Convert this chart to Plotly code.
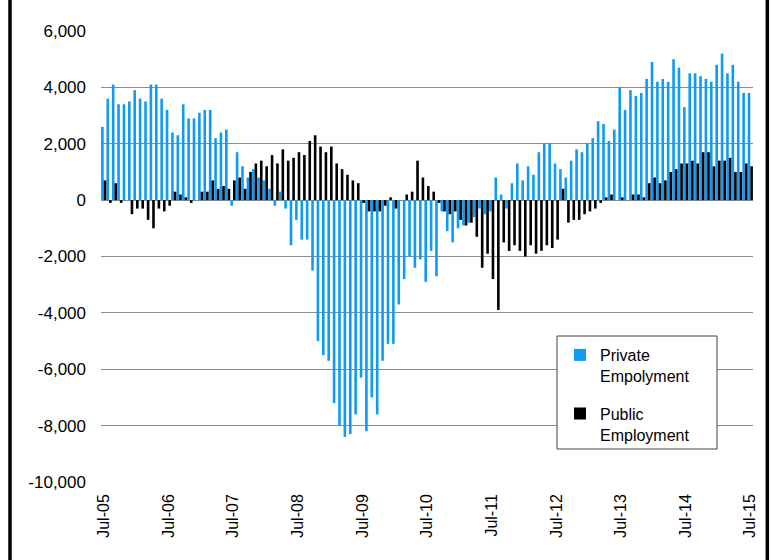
import plotly.graph_objects as go

# ---- data -------------------------------------------------------------
months = []
_mn = ["Jan", "Feb", "Mar", "Apr", "May", "Jun", "Jul", "Aug", "Sep", "Oct", "Nov", "Dec"]
for _y in range(2005, 2016):
    for _m in range(12):
        if (_y == 2005 and _m < 6) or (_y == 2015 and _m > 6):
            continue
        months.append(f"{_mn[_m]}-{str(_y)[2:]}")

private_employment = [
    2600, 3600, 4100, 3400, 3400, 3500, 3900, 3600, 3500, 4100, 4100, 3600,
    3200, 2400, 2300, 3400, 2900, 2900, 3100, 3200, 3200, 2200, 2400, 2500,
    -200, 1700, 1200, 800, 1100, 800, 700, 400, -200, 300, -300, -1600,
    -700, -1400, -1400, -2500, -5000, -5500, -5700, -7200, -8000, -8400, -8300, -7600,
    -6300, -8200, -7000, -7600, -5700, -5100, -5100, -3700, -2800, -2000, -2400, -2100,
    -2900, -1800, -2700, -400, -1100, -1500, -1000, -900, -800, -600, -300, -500,
    -400, 800, 200, -300, 600, 1300, 700, 1200, 900, 1700, 2000, 2000,
    1300, 1100, 800, 1400, 1800, 1700, 2000, 2200, 2800, 2700, 2100, 2500,
    4000, 3200, 3900, 3700, 3800, 4300, 4900, 4200, 4300, 4200, 5000, 4700,
    3300, 4500, 4500, 4400, 4300, 4200, 4800, 5200, 4500, 4800, 4200, 3800,
    3800,
]

public_employment = [
    700, -100, 600, -100, 0, -500, -300, -300, -700, -1000, -300, -400,
    -200, 300, 200, 100, -100, 0, 300, 300, 700, 400, 500, 400,
    700, 800, 400, 1000, 1300, 1400, 1200, 1600, 1300, 1800, 1400, 1500,
    1700, 1600, 2100, 2300, 1900, 1700, 1900, 1300, 1100, 900, 700, 600,
    -100, -400, -400, -400, -200, 100, -300, 0, 200, 300, 1400, 800,
    500, 300, -100, -400, -500, -400, -700, -900, -800, -1300, -2400, -1900,
    -2800, -3900, -1500, -1800, -1600, -1800, -2000, -1600, -1900, -1800, -1600, -1700,
    -1400, 400, -800, -700, -700, -500, -400, -300, -100, 100, 200, 0,
    100, 0, 200, 200, 100, 600, 800, 600, 700, 1000, 1100, 1300,
    1300, 1400, 1300, 1700, 1700, 1200, 1400, 1400, 1500, 1000, 1000, 1300,
    1200,
]

x_tick_labels = months[::12]
y_tick_vals = [6000, 4000, 2000, 0, -2000, -4000, -6000, -8000, -10000]
y_tick_labels = ["6,000", "4,000", "2,000", "0", "-2,000", "-4,000", "-6,000", "-8,000", "-10,000"]
year_tick_positions = [12 * k - 0.5 for k in range(0, 11)]

# ---- figure -----------------------------------------------------------
FONT = "Arial, 'Liberation Sans', sans-serif"
fig = go.Figure()
fig.add_trace(go.Bar(x=months, y=private_employment, name="Private<br>Empolyment",
                     marker=dict(color="#0f9bf5", line=dict(width=0)), legendgroup="a"))
fig.add_trace(go.Bar(x=months, y=public_employment, name="Public<br>Employment",
                     marker=dict(color="#000000", line=dict(width=0)), legendgroup="b"))

PL, PR, PT, PB = 101, 753, 31, 482
W, H = 772, 560
pw, ph = PR - PL, PB - PT


def px(x):
    return (x - PL) / pw


def py(y):
    return (PB - y) / ph


fig.update_layout(
    width=W, height=H,
    margin=dict(l=PL, r=W - PR, t=PT, b=H - PB, pad=0),
    paper_bgcolor="white", plot_bgcolor="white",
    font=dict(family=FONT, size=16, color="#000000"),
    barmode="group", bargap=0.03, bargroupgap=0,
    showlegend=True,
    legend=dict(x=px(560), y=py(338), xanchor="left", yanchor="top",
                bgcolor="rgba(0,0,0,0)", borderwidth=0,
                font=dict(family=FONT, size=16, color="#000000"),
                traceorder="grouped", tracegroupgap=14, valign="top"),
    xaxis=dict(type="category", categoryorder="array", categoryarray=months,
               range=[-0.5, len(months) - 0.5],
               tickmode="array", tickvals=x_tick_labels, ticktext=x_tick_labels,
               tickangle=-90, ticks="", showgrid=False, showline=False, zeroline=False,
               ticklabelstandoff=8, tickfont=dict(size=16, family=FONT)),
    xaxis2=dict(overlaying="x", anchor="free", position=10000 / 16000,
                range=[-0.5, len(months) - 0.5], showgrid=False, zeroline=False,
                showline=True, linecolor="#a6a6a6", linewidth=1,
                tickmode="array", tickvals=year_tick_positions, ticks="outside",
                ticklen=4, tickcolor="#a6a6a6", showticklabels=False, layer="below traces"),
    yaxis=dict(range=[-10000, 6000], tickmode="array", tickvals=y_tick_vals, ticktext=y_tick_labels,
               showgrid=True, gridcolor="#8c8c8c", gridwidth=1, zeroline=False, showline=False,
               ticks="", ticklabelstandoff=14, tickfont=dict(size=17, family=FONT)),
    shapes=[
        # legend box
        dict(type="rect", xref="paper", yref="paper", x0=px(557), x1=px(717), y0=py(449), y1=py(336),
             line=dict(color="#404040", width=1), fillcolor="white", layer="above"),
        # outer chart frame: left and right edges (top/bottom lie outside the visible page)
        dict(type="line", xref="paper", yref="paper", x0=px(10), x1=px(10), y0=py(560), y1=py(0),
             line=dict(color="#000000", width=3.5), layer="above"),
        dict(type="line", xref="paper", yref="paper", x0=px(767.3), x1=px(767.3), y0=py(560), y1=py(0),
             line=dict(color="#000000", width=3.5), layer="above"),
    ],
)

fig.write_html(
    "out.html",
    config={"displayModeBar": False},
    post_script="document.body.style.margin='0';document.body.style.overflow='hidden';",
)
